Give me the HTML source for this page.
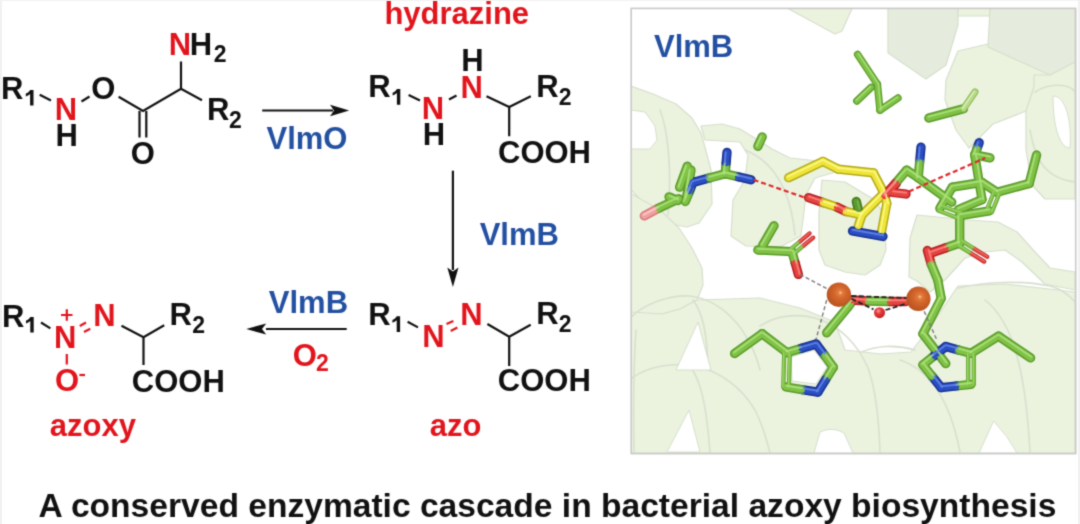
<!DOCTYPE html>
<html><head><meta charset="utf-8">
<style>
html,body{margin:0;padding:0;background:#fff;width:1080px;height:524px;overflow:hidden}
svg{display:block}
text{font-family:"Liberation Sans",sans-serif;font-weight:bold}
.k{fill:#111}
.r{fill:#e2141c}
.b{fill:#2350a2}
.s{font-size:23px}
</style></head><body>
<svg width="1080" height="524" viewBox="0 0 1080 524">
<defs><filter id="bl" x="0" y="0" width="100%" height="100%" filterUnits="userSpaceOnUse" color-interpolation-filters="sRGB"><feConvolveMatrix order="3" kernelMatrix="0.0276 0.111 0.0276 0.111 0.446 0.111 0.0276 0.111 0.0276" edgeMode="duplicate"/></filter></defs>
<g filter="url(#bl)">
<rect x="0" y="0" width="1080" height="524" fill="#fff"/>
<rect x="0" y="0" width="2" height="524" fill="#f1f1f1"/><rect x="0" y="0" width="1080" height="1.2" fill="#f3f3f3"/><rect x="1078" y="0" width="2" height="524" fill="#f1f1f1"/>
<g font-size="31">
<!-- Molecule 1 -->
<text class="k" x="1" y="99">R</text><path d="M30.1 89.9H33.5V105.6H30.1V94.0C28.9 95.2 27.2 96.0 25.8 96.4V93.6C28.0 92.7 29.5 91.4 30.1 89.9Z" fill="#111"/>
<text class="r" x="54.7" y="120">N</text>
<text class="k" x="55.4" y="146.4">H</text>
<text class="k" x="91.3" y="98.7">O</text>
<text class="k" x="130.8" y="164.3">O</text>
<text class="r" x="168.8" y="55.2">N</text><text class="k" x="189.8" y="55.2">H</text><text class="k s" x="213.8" y="62.2">2</text>
<text class="k" x="207" y="120.3">R</text><text class="k s" x="228.9" y="128">2</text>
<!-- arrow 1 label -->
<text class="b" x="266.5" y="149">VlmO</text>
<!-- Molecule 2 hydrazine -->
<text class="r" x="384.4" y="24">hydrazine</text>
<text class="k" x="368.3" y="97.2">R</text><path d="M396.9 89.0H400.3V104.7H396.9V93.1C395.7 94.3 394.0 95.1 392.6 95.5V92.7C394.8 91.8 396.3 90.5 396.9 89.0Z" fill="#111"/>
<text class="r" x="421.8" y="119.2">N</text>
<text class="k" x="422.8" y="144.6">H</text>
<text class="r" x="460.5" y="97.5">N</text>
<text class="k" x="461.3" y="71">H</text>
<text class="k" x="536.2" y="97.2">R</text><text class="k s" x="558.8" y="104.6">2</text>
<text class="k" x="498" y="163.3">COOH</text>
<text class="b" x="479.7" y="245">VlmB</text>
<!-- Molecule 3 azo -->
<text class="k" x="368.3" y="324.8">R</text><path d="M396.7 316.2H400.1V331.9H396.7V320.3C395.5 321.5 393.8 322.3 392.4 322.7V319.9C394.6 319.0 396.1 317.7 396.7 316.2Z" fill="#111"/>
<text class="r" x="422.2" y="347">N</text>
<text class="r" x="460.3" y="325.4">N</text>
<text class="k" x="536.2" y="324.4">R</text><text class="k s" x="558.8" y="332">2</text>
<text class="k" x="497.8" y="390.8">COOH</text>
<text class="r" x="429.8" y="436">azo</text>
<text class="b" x="268.8" y="312.8">VlmB</text>
<text class="r" x="292.7" y="365.5">O</text><text class="r s" x="316.1" y="371.2">2</text>
<!-- Molecule 4 azoxy -->
<text class="k" x="2" y="326.7">R</text><path d="M30.3 316.9H33.7V332.6H30.3V321.0C29.1 322.2 27.4 323.0 26.0 323.4V320.6C28.2 319.7 29.7 318.4 30.3 316.9Z" fill="#111"/>
<text class="r" x="54.1" y="347.7">N</text>
<text class="r" x="93.3" y="326">N</text>
<text class="k" x="169.6" y="325.4">R</text><text class="k s" x="192.2" y="333">2</text>
<text class="k" x="131.8" y="391.6">COOH</text>
<text class="r" x="55.1" y="390.5">O</text>
<text class="r" x="49.8" y="436">azoxy</text>
</g>
<g stroke="#e2141c" stroke-width="2.2" fill="none">
<path d="M61 315h11.5M66.8 309.2v11.5"/>
<path d="M79.4 375h5.6"/>
<path d="M66.8 354v10.5"/>
<path d="M79.8 326L86 322.5M84 332L90.3 328.8"/>
<path d="M446.5 324L453.4 321.1M450.7 331L457.4 327.6"/>
</g>
<g stroke="#111" stroke-width="2.2" fill="none" stroke-linecap="butt">
<!-- mol1 -->
<path d="M39.7 94.8L51 100.6"/>
<path d="M81.5 101.5L89.5 96.5"/>
<path d="M118.6 96.7L143 111L181 88.7L202 100.3M181 88.7V61.5"/>
<path d="M139.5 111V137.4M146.3 111V137.4"/>
<!-- mol2 -->
<path d="M408.6 95L420 100.5M449 99.5L456.5 95.5M486.5 96.3L509.2 107L530.8 96.2M509.2 107V136.2"/>
<!-- mol3 -->
<path d="M407.6 321.8L418 327.4M487.4 324L509.2 336.8L530.7 324.8M509.2 336.8V366"/>
<!-- mol4 -->
<path d="M41 322.5L50.4 328.4M121.5 325.8L143.5 337.2L164.2 325.3M143.5 337.2V365"/>
<!-- arrows -->
<path d="M262.2 110.5H333"/>
<path d="M452.9 170.7V270"/>
<path d="M266 329H346.7"/>
</g>
<g fill="#111">
<path d="M349.2 110.5L330 104.8L334 110.5L330 116.2Z"/>
<path d="M452.9 286.9L447.3 267.5L452.9 271.5L458.5 267.5Z"/>
<path d="M246.2 329L266.2 323.4L262 329L266.2 334.6Z"/>
</g>
<text x="38.6" y="517.2" font-size="33.6" fill="#111">A conserved enzymatic cascade in bacterial azoxy biosynthesis</text>
<!-- panel -->
<!--PANEL--><defs>
<radialGradient id="fe" cx="0.56" cy="0.42" r="0.62"><stop offset="0" stop-color="#fbd3a6"/><stop offset="0.13" stop-color="#e27d40"/><stop offset="0.4" stop-color="#d4662b"/><stop offset="1" stop-color="#b4501f"/></radialGradient>
<radialGradient id="wa" cx="0.4" cy="0.35" r="0.65"><stop offset="0" stop-color="#ff9a9a"/><stop offset="0.4" stop-color="#e83a3a"/><stop offset="1" stop-color="#c02020"/></radialGradient>
<clipPath id="pc"><rect x="631.5" y="9" width="444" height="444"/></clipPath>
</defs><g clip-path="url(#pc)"><g fill="#ebf3df" stroke="#d6dfcc" stroke-width="1.2" stroke-linejoin="round">
<!-- top wedge -->
<path d="M788 8.5H852L842 31L835 34Z"/>
<!-- top right block -->
<path d="M958 51L988 44L1050 73L1034 87L1026 111L993 124L969 148L956 130L945 100L946 80Z"/>
<path d="M888 8.5H958V25L946 65L926 79L888 53Z" fill="#e6ecdd"/>
<path d="M958 8.5H990V16H958Z"/>
<path d="M990 8.5H1075V62L1070 65L1050 75L988 47Z" fill="#e6ecdd"/>
<path d="M1034 75L1050 75L1075 62V199L1045 199L1032 185L1026 150L1026 111L1034 87Z"/>
<!-- L1 band -->
<path d="M631 86L653 94L676 104L692 118L701 133L706 151L711 170L712 204L699 223L687 227L670 224L650 210L636 195L631 190Z"/>
<!-- L2 band + cylinder A -->
<path d="M701 126L722 124L740 129L758 140L772 149L790 158L809 160L830 163L836 172L815 178L806 195L803 220L800.8 236L780 247L746 246L731 236L733 200L745 180L748 155L740 142L705 140Z"/>
<!-- cylinder B -->
<path d="M822 180L845 182L858 190L875 200L884 215L886 250L880 265L865 275L845 272L825 265L819 250L819 213Z"/>
<!-- end cap C -->
<path d="M630 193L660 210L679 228L692 248L702 268L703 285L697 300L680 309L662 314L645 317L631 313Z"/>
<!-- center-right ribbon -->
<path d="M917 215L969 220L998 222L1017 232L1035 252L1050 268L1075 272L1075 290L1045 284L1022 262L1005 250L985 252L965 258L945 280L930 292L917 281L909 277L910 238Z"/>
<!-- bottom band -->
<path d="M631 312L662 314L680 309L697 300L760 298L800 308L835 322L845 350L881 354L911 352L935 320L958 286L1005 284L1075 292V453H631Z"/>
</g>
<g fill="none" stroke="#d7dfce" stroke-width="1.6" stroke-linecap="round">
<path d="M1035 92C1050 82 1070 84 1075 92M1030 130C1035 160 1045 178 1075 182"/>
<path d="M636 330C634 360 633 400 634 452"/>
<path d="M630 318C645 303 670 295 690 296C712 298 735 315 748 340C755 352 758 362 760 370"/>
<path d="M632 378C648 366 675 362 695 366C720 371 742 388 755 410C764 428 768 445 770 453"/>
<path d="M690 366C700 380 706 400 710 453"/>
<path d="M760 326C775 316 795 313 815 318C840 325 858 345 868 368C876 390 879 420 880 453"/>
<path d="M862 352C875 346 895 344 915 350"/>
<path d="M958 288C985 282 1020 280 1050 286C1062 289 1070 296 1075 302"/>
<path d="M693 300C702 312 707 330 708 368"/>

<path d="M985 300C1010 320 1025 360 1030 452"/>
<path d="M900 360C930 370 950 400 960 452"/>
<path d="M660 110C668 130 672 170 668 215"/>
<path d="M745 150C770 160 790 185 795 235"/>
</g>
<g fill="#fff" stroke="#d6dfcc" stroke-width="1">
<path d="M1053 96C1066 96 1072 122 1070 148C1060 148 1053 128 1053 96Z"/>
<path d="M631 110L645 112L655 126L657 140L650 149L631 149Z"/>
<path d="M698 322L711 370L676 370Z"/>
<path d="M689 410L700 452H667Z"/>
<path d="M814 453L820 432Q832 426 844 433L853 453Z"/>
<path d="M993.6 421Q1008 436 1017 453H979Z"/>
<path d="M791 357L814 350L827 367L816 384L792 381Z"/>
</g>
<g stroke-linecap="round" fill="none">
<line x1="857.6" y1="54.5" x2="877.4" y2="84.3" stroke="#5a9a2c" stroke-width="7.4"/>
<line x1="877.4" y1="84.3" x2="880.0" y2="110.2" stroke="#5a9a2c" stroke-width="7.4"/>
<line x1="880.0" y1="110.2" x2="898.0" y2="98.0" stroke="#5a9a2c" stroke-width="7.4"/>
<line x1="871.3" y1="87.3" x2="856.8" y2="101.0" stroke="#5a9a2c" stroke-width="7.4"/>
<line x1="928.8" y1="118.0" x2="963.5" y2="108.8" stroke="#5a9a2c" stroke-width="9.3"/>
<line x1="963.5" y1="108.8" x2="975.0" y2="92.0" stroke="#8fbf55" stroke-width="7.0"/>
<line x1="644.3" y1="215.8" x2="658.6" y2="208.2" stroke="#d87a7a" stroke-width="9.3"/>
<line x1="658.6" y1="208.2" x2="678.7" y2="198.7" stroke="#5a9a2c" stroke-width="9.3"/>
<line x1="669.0" y1="196.8" x2="677.7" y2="200.6" stroke="#5a9a2c" stroke-width="9.3"/>
<line x1="679.6" y1="187.2" x2="687.3" y2="166.2" stroke="#5a9a2c" stroke-width="9.3"/>
<line x1="686.5" y1="197.7" x2="691.0" y2="170.0" stroke="#5a9a2c" stroke-width="9.3"/>
<line x1="685.3" y1="201.5" x2="691.0" y2="188.0" stroke="#5a9a2c" stroke-width="9.3"/>
<line x1="689.2" y1="191.0" x2="693.0" y2="182.4" stroke="#17308f" stroke-width="9.3"/>
<line x1="693.0" y1="182.4" x2="709.1" y2="178.1" stroke="#17308f" stroke-width="9.3"/>
<line x1="709.1" y1="178.1" x2="725.2" y2="173.8" stroke="#5a9a2c" stroke-width="9.3"/>
<line x1="725.2" y1="173.8" x2="726.1" y2="163.1" stroke="#5a9a2c" stroke-width="9.3"/>
<line x1="726.1" y1="163.1" x2="727.0" y2="152.3" stroke="#17308f" stroke-width="9.3"/>
<line x1="725.2" y1="173.8" x2="738.1" y2="176.8" stroke="#5a9a2c" stroke-width="9.3"/>
<line x1="738.1" y1="176.8" x2="751.0" y2="179.8" stroke="#17308f" stroke-width="9.3"/>
<line x1="762.2" y1="136.9" x2="757.9" y2="146.3" stroke="#5a9a2c" stroke-width="9.3"/>
<line x1="788.6" y1="177.7" x2="822.9" y2="161.4" stroke="#b3a91a" stroke-width="9.3"/>
<line x1="822.9" y1="161.4" x2="838.2" y2="169.1" stroke="#b3a91a" stroke-width="9.3"/>
<line x1="838.2" y1="169.1" x2="873.5" y2="172.9" stroke="#b3a91a" stroke-width="9.3"/>
<line x1="873.5" y1="172.9" x2="884.0" y2="193.0" stroke="#b3a91a" stroke-width="9.3"/>
<line x1="884.0" y1="193.0" x2="862.0" y2="214.9" stroke="#b3a91a" stroke-width="9.3"/>
<line x1="862.0" y1="214.9" x2="858.2" y2="226.3" stroke="#b3a91a" stroke-width="9.3"/>
<line x1="884.0" y1="193.0" x2="886.8" y2="203.4" stroke="#b3a91a" stroke-width="9.3"/>
<line x1="886.8" y1="203.4" x2="881.5" y2="232.0" stroke="#b3a91a" stroke-width="9.3"/>
<line x1="852.5" y1="231.0" x2="883.0" y2="236.5" stroke="#17308f" stroke-width="9.3"/>
<line x1="808.6" y1="197.7" x2="822.9" y2="202.5" stroke="#b51e22" stroke-width="9.3"/>
<line x1="822.9" y1="202.5" x2="837.2" y2="207.2" stroke="#b3a91a" stroke-width="9.3"/>
<line x1="837.2" y1="207.2" x2="846.0" y2="211.5" stroke="#b51e22" stroke-width="9.3"/>
<line x1="846.0" y1="211.5" x2="862.0" y2="214.9" stroke="#b3a91a" stroke-width="9.3"/>
<line x1="856.3" y1="201.5" x2="858.2" y2="209.1" stroke="#3e7a18" stroke-width="9.3"/>
<line x1="885.0" y1="194.8" x2="896.4" y2="183.4" stroke="#b51e22" stroke-width="9.3"/>
<line x1="921.0" y1="147.2" x2="919.6" y2="162.4" stroke="#17308f" stroke-width="9.3"/>
<line x1="919.6" y1="162.4" x2="918.2" y2="177.7" stroke="#5a9a2c" stroke-width="9.3"/>
<line x1="918.2" y1="177.7" x2="951.8" y2="202.2" stroke="#5a9a2c" stroke-width="9.3"/>
<line x1="918.2" y1="177.7" x2="906.7" y2="170.1" stroke="#5a9a2c" stroke-width="9.3"/>
<line x1="906.7" y1="170.1" x2="895.7" y2="183.1" stroke="#5a9a2c" stroke-width="9.3"/>
<line x1="895.7" y1="183.1" x2="884.6" y2="196.0" stroke="#b51e22" stroke-width="9.3"/>
<line x1="893.0" y1="192.5" x2="906.0" y2="194.0" stroke="#b51e22" stroke-width="9.3"/>
<line x1="979.2" y1="142.6" x2="977.0" y2="148.7" stroke="#17308f" stroke-width="9.3"/>
<line x1="977.0" y1="148.7" x2="974.7" y2="154.8" stroke="#5a9a2c" stroke-width="9.3"/>
<line x1="974.7" y1="154.8" x2="982.0" y2="199.6" stroke="#5a9a2c" stroke-width="9.3"/>
<line x1="982.0" y1="199.6" x2="958.5" y2="209.5" stroke="#5a9a2c" stroke-width="9.3"/>
<line x1="974.7" y1="154.8" x2="990.0" y2="157.9" stroke="#5a9a2c" stroke-width="9.3"/>
<line x1="939.8" y1="208.3" x2="952.3" y2="187.2" stroke="#5a9a2c" stroke-width="9.3"/>
<line x1="952.3" y1="187.2" x2="982.0" y2="182.3" stroke="#5a9a2c" stroke-width="9.3"/>
<line x1="982.0" y1="182.3" x2="996.9" y2="192.2" stroke="#5a9a2c" stroke-width="9.3"/>
<line x1="989.5" y1="210.8" x2="959.7" y2="215.7" stroke="#5a9a2c" stroke-width="9.3"/>
<line x1="994.3" y1="191.2" x2="986.9" y2="209.8" stroke="#5a9a2c" stroke-width="4.2"/>
<line x1="999.5" y1="193.2" x2="992.1" y2="211.8" stroke="#5a9a2c" stroke-width="4.2"/>
<line x1="960.7" y1="213.1" x2="940.8" y2="205.7" stroke="#5a9a2c" stroke-width="4.2"/>
<line x1="958.7" y1="218.3" x2="938.8" y2="210.9" stroke="#5a9a2c" stroke-width="4.2"/>
<line x1="996.9" y1="192.2" x2="1029.2" y2="183.5" stroke="#5a9a2c" stroke-width="9.3"/>
<line x1="1029.2" y1="183.5" x2="1036.6" y2="155.0" stroke="#5a9a2c" stroke-width="9.3"/>
<line x1="959.7" y1="215.7" x2="959.7" y2="243.0" stroke="#5a9a2c" stroke-width="9.3"/>
<line x1="959.7" y1="243.0" x2="945.4" y2="248.0" stroke="#5a9a2c" stroke-width="9.3"/>
<line x1="945.4" y1="248.0" x2="931.0" y2="253.0" stroke="#b51e22" stroke-width="9.3"/>
<line x1="958.2" y1="245.4" x2="971.2" y2="253.5" stroke="#5a9a2c" stroke-width="4.2"/>
<line x1="971.2" y1="253.5" x2="984.2" y2="261.6" stroke="#b51e22" stroke-width="4.2"/>
<line x1="961.2" y1="240.6" x2="974.2" y2="248.7" stroke="#5a9a2c" stroke-width="4.2"/>
<line x1="974.2" y1="248.7" x2="987.2" y2="256.8" stroke="#b51e22" stroke-width="4.2"/>
<line x1="927.4" y1="250.5" x2="931.2" y2="264.1" stroke="#b51e22" stroke-width="9.3"/>
<line x1="931.2" y1="264.1" x2="937.8" y2="280.0" stroke="#5a9a2c" stroke-width="9.3"/>
<line x1="937.8" y1="280.0" x2="941.2" y2="298.3" stroke="#5a9a2c" stroke-width="9.3"/>
<line x1="774.0" y1="225.7" x2="762.7" y2="245.2" stroke="#5a9a2c" stroke-width="9.3"/>
<line x1="757.8" y1="250.0" x2="792.0" y2="251.7" stroke="#5a9a2c" stroke-width="9.3"/>
<line x1="793.8" y1="253.8" x2="803.5" y2="245.7" stroke="#5a9a2c" stroke-width="4.2"/>
<line x1="803.5" y1="245.7" x2="813.2" y2="237.6" stroke="#b51e22" stroke-width="4.2"/>
<line x1="790.2" y1="249.6" x2="799.9" y2="241.5" stroke="#5a9a2c" stroke-width="4.2"/>
<line x1="799.9" y1="241.5" x2="809.6" y2="233.4" stroke="#b51e22" stroke-width="4.2"/>
<line x1="792.0" y1="251.7" x2="795.2" y2="263.0" stroke="#5a9a2c" stroke-width="9.3"/>
<line x1="795.2" y1="263.0" x2="798.4" y2="274.4" stroke="#b51e22" stroke-width="9.3"/>
<line x1="826.7" y1="332.8" x2="848.0" y2="307.0" stroke="#5a9a2c" stroke-width="9.3"/>
<line x1="848.0" y1="307.0" x2="853.0" y2="300.5" stroke="#5a9a2c" stroke-width="9.3"/>
<line x1="852.0" y1="300.0" x2="868.0" y2="301.0" stroke="#b51e22" stroke-width="9.3"/>
<line x1="868.0" y1="301.0" x2="890.0" y2="301.5" stroke="#5a9a2c" stroke-width="9.3"/>
<line x1="890.0" y1="301.5" x2="906.0" y2="301.5" stroke="#b51e22" stroke-width="9.3"/>
<line x1="941.2" y1="298.3" x2="922.9" y2="333.9" stroke="#5a9a2c" stroke-width="9.3"/>
<line x1="922.9" y1="333.9" x2="945.8" y2="363.6" stroke="#5a9a2c" stroke-width="9.3"/>
<line x1="734.6" y1="353.5" x2="762.1" y2="333.7" stroke="#5a9a2c" stroke-width="9.3"/>
<line x1="762.1" y1="333.7" x2="787.0" y2="352.6" stroke="#5a9a2c" stroke-width="9.3"/>
<line x1="787.0" y1="352.6" x2="801.6" y2="348.3" stroke="#5a9a2c" stroke-width="9.3"/>
<line x1="801.6" y1="348.3" x2="816.2" y2="344.0" stroke="#17308f" stroke-width="9.3"/>
<line x1="816.2" y1="344.0" x2="824.8" y2="355.6" stroke="#17308f" stroke-width="9.3"/>
<line x1="824.8" y1="355.6" x2="833.3" y2="367.2" stroke="#5a9a2c" stroke-width="9.3"/>
<line x1="833.3" y1="367.2" x2="825.6" y2="379.6" stroke="#5a9a2c" stroke-width="9.3"/>
<line x1="825.6" y1="379.6" x2="817.9" y2="392.1" stroke="#17308f" stroke-width="9.3"/>
<line x1="817.9" y1="392.1" x2="802.0" y2="389.6" stroke="#17308f" stroke-width="9.3"/>
<line x1="802.0" y1="389.6" x2="786.1" y2="387.0" stroke="#5a9a2c" stroke-width="9.3"/>
<line x1="788.9" y1="387.1" x2="789.8" y2="352.7" stroke="#5a9a2c" stroke-width="4.2"/>
<line x1="783.3" y1="386.9" x2="784.2" y2="352.5" stroke="#5a9a2c" stroke-width="4.2"/>
<line x1="945.8" y1="346.5" x2="958.4" y2="349.9" stroke="#17308f" stroke-width="9.3"/>
<line x1="958.4" y1="349.9" x2="971.0" y2="353.3" stroke="#5a9a2c" stroke-width="9.3"/>
<line x1="968.2" y1="353.3" x2="968.2" y2="384.3" stroke="#5a9a2c" stroke-width="4.2"/>
<line x1="973.8" y1="353.3" x2="973.8" y2="384.3" stroke="#5a9a2c" stroke-width="4.2"/>
<line x1="971.0" y1="384.3" x2="956.1" y2="386.0" stroke="#5a9a2c" stroke-width="9.3"/>
<line x1="956.1" y1="386.0" x2="941.2" y2="387.7" stroke="#17308f" stroke-width="9.3"/>
<line x1="941.2" y1="387.7" x2="932.0" y2="376.2" stroke="#17308f" stroke-width="9.3"/>
<line x1="932.0" y1="376.2" x2="922.9" y2="364.8" stroke="#5a9a2c" stroke-width="9.3"/>
<line x1="922.9" y1="364.8" x2="934.3" y2="355.6" stroke="#5a9a2c" stroke-width="9.3"/>
<line x1="934.3" y1="355.6" x2="945.8" y2="346.5" stroke="#17308f" stroke-width="9.3"/>
<line x1="971.0" y1="353.3" x2="998.5" y2="336.1" stroke="#5a9a2c" stroke-width="9.3"/>
<line x1="998.5" y1="336.1" x2="1030.6" y2="357.9" stroke="#5a9a2c" stroke-width="9.3"/>
<line x1="857.6" y1="54.5" x2="877.4" y2="84.3" stroke="#7fc244" stroke-width="5.0"/>
<line x1="877.4" y1="84.3" x2="880.0" y2="110.2" stroke="#7fc244" stroke-width="5.0"/>
<line x1="880.0" y1="110.2" x2="898.0" y2="98.0" stroke="#7fc244" stroke-width="5.0"/>
<line x1="871.3" y1="87.3" x2="856.8" y2="101.0" stroke="#7fc244" stroke-width="5.0"/>
<line x1="928.8" y1="118.0" x2="963.5" y2="108.8" stroke="#7fc244" stroke-width="6.3"/>
<line x1="963.5" y1="108.8" x2="975.0" y2="92.0" stroke="#b8d88a" stroke-width="4.8"/>
<line x1="644.3" y1="215.8" x2="658.6" y2="208.2" stroke="#f0a0a0" stroke-width="6.3"/>
<line x1="658.6" y1="208.2" x2="678.7" y2="198.7" stroke="#7fc244" stroke-width="6.3"/>
<line x1="669.0" y1="196.8" x2="677.7" y2="200.6" stroke="#7fc244" stroke-width="6.3"/>
<line x1="679.6" y1="187.2" x2="687.3" y2="166.2" stroke="#7fc244" stroke-width="6.3"/>
<line x1="686.5" y1="197.7" x2="691.0" y2="170.0" stroke="#7fc244" stroke-width="6.3"/>
<line x1="685.3" y1="201.5" x2="691.0" y2="188.0" stroke="#7fc244" stroke-width="6.3"/>
<line x1="689.2" y1="191.0" x2="693.0" y2="182.4" stroke="#2a4fc4" stroke-width="6.3"/>
<line x1="693.0" y1="182.4" x2="709.1" y2="178.1" stroke="#2a4fc4" stroke-width="6.3"/>
<line x1="709.1" y1="178.1" x2="725.2" y2="173.8" stroke="#7fc244" stroke-width="6.3"/>
<line x1="725.2" y1="173.8" x2="726.1" y2="163.1" stroke="#7fc244" stroke-width="6.3"/>
<line x1="726.1" y1="163.1" x2="727.0" y2="152.3" stroke="#2a4fc4" stroke-width="6.3"/>
<line x1="725.2" y1="173.8" x2="738.1" y2="176.8" stroke="#7fc244" stroke-width="6.3"/>
<line x1="738.1" y1="176.8" x2="751.0" y2="179.8" stroke="#2a4fc4" stroke-width="6.3"/>
<line x1="762.2" y1="136.9" x2="757.9" y2="146.3" stroke="#7fc244" stroke-width="6.3"/>
<line x1="788.6" y1="177.7" x2="822.9" y2="161.4" stroke="#eee535" stroke-width="6.3"/>
<line x1="822.9" y1="161.4" x2="838.2" y2="169.1" stroke="#eee535" stroke-width="6.3"/>
<line x1="838.2" y1="169.1" x2="873.5" y2="172.9" stroke="#eee535" stroke-width="6.3"/>
<line x1="873.5" y1="172.9" x2="884.0" y2="193.0" stroke="#eee535" stroke-width="6.3"/>
<line x1="884.0" y1="193.0" x2="862.0" y2="214.9" stroke="#eee535" stroke-width="6.3"/>
<line x1="862.0" y1="214.9" x2="858.2" y2="226.3" stroke="#eee535" stroke-width="6.3"/>
<line x1="884.0" y1="193.0" x2="886.8" y2="203.4" stroke="#eee535" stroke-width="6.3"/>
<line x1="886.8" y1="203.4" x2="881.5" y2="232.0" stroke="#eee535" stroke-width="6.3"/>
<line x1="852.5" y1="231.0" x2="883.0" y2="236.5" stroke="#2a4fc4" stroke-width="6.3"/>
<line x1="808.6" y1="197.7" x2="822.9" y2="202.5" stroke="#e5443f" stroke-width="6.3"/>
<line x1="822.9" y1="202.5" x2="837.2" y2="207.2" stroke="#eee535" stroke-width="6.3"/>
<line x1="837.2" y1="207.2" x2="846.0" y2="211.5" stroke="#e5443f" stroke-width="6.3"/>
<line x1="846.0" y1="211.5" x2="862.0" y2="214.9" stroke="#eee535" stroke-width="6.3"/>
<line x1="856.3" y1="201.5" x2="858.2" y2="209.1" stroke="#5d9a30" stroke-width="6.3"/>
<line x1="885.0" y1="194.8" x2="896.4" y2="183.4" stroke="#e5443f" stroke-width="6.3"/>
<line x1="921.0" y1="147.2" x2="919.6" y2="162.4" stroke="#2a4fc4" stroke-width="6.3"/>
<line x1="919.6" y1="162.4" x2="918.2" y2="177.7" stroke="#7fc244" stroke-width="6.3"/>
<line x1="918.2" y1="177.7" x2="951.8" y2="202.2" stroke="#7fc244" stroke-width="6.3"/>
<line x1="918.2" y1="177.7" x2="906.7" y2="170.1" stroke="#7fc244" stroke-width="6.3"/>
<line x1="906.7" y1="170.1" x2="895.7" y2="183.1" stroke="#7fc244" stroke-width="6.3"/>
<line x1="895.7" y1="183.1" x2="884.6" y2="196.0" stroke="#e5443f" stroke-width="6.3"/>
<line x1="893.0" y1="192.5" x2="906.0" y2="194.0" stroke="#e5443f" stroke-width="6.3"/>
<line x1="979.2" y1="142.6" x2="977.0" y2="148.7" stroke="#2a4fc4" stroke-width="6.3"/>
<line x1="977.0" y1="148.7" x2="974.7" y2="154.8" stroke="#7fc244" stroke-width="6.3"/>
<line x1="974.7" y1="154.8" x2="982.0" y2="199.6" stroke="#7fc244" stroke-width="6.3"/>
<line x1="982.0" y1="199.6" x2="958.5" y2="209.5" stroke="#7fc244" stroke-width="6.3"/>
<line x1="974.7" y1="154.8" x2="990.0" y2="157.9" stroke="#7fc244" stroke-width="6.3"/>
<line x1="939.8" y1="208.3" x2="952.3" y2="187.2" stroke="#7fc244" stroke-width="6.3"/>
<line x1="952.3" y1="187.2" x2="982.0" y2="182.3" stroke="#7fc244" stroke-width="6.3"/>
<line x1="982.0" y1="182.3" x2="996.9" y2="192.2" stroke="#7fc244" stroke-width="6.3"/>
<line x1="989.5" y1="210.8" x2="959.7" y2="215.7" stroke="#7fc244" stroke-width="6.3"/>
<line x1="994.3" y1="191.2" x2="986.9" y2="209.8" stroke="#7fc244" stroke-width="2.9"/>
<line x1="999.5" y1="193.2" x2="992.1" y2="211.8" stroke="#7fc244" stroke-width="2.9"/>
<line x1="960.7" y1="213.1" x2="940.8" y2="205.7" stroke="#7fc244" stroke-width="2.9"/>
<line x1="958.7" y1="218.3" x2="938.8" y2="210.9" stroke="#7fc244" stroke-width="2.9"/>
<line x1="996.9" y1="192.2" x2="1029.2" y2="183.5" stroke="#7fc244" stroke-width="6.3"/>
<line x1="1029.2" y1="183.5" x2="1036.6" y2="155.0" stroke="#7fc244" stroke-width="6.3"/>
<line x1="959.7" y1="215.7" x2="959.7" y2="243.0" stroke="#7fc244" stroke-width="6.3"/>
<line x1="959.7" y1="243.0" x2="945.4" y2="248.0" stroke="#7fc244" stroke-width="6.3"/>
<line x1="945.4" y1="248.0" x2="931.0" y2="253.0" stroke="#e5443f" stroke-width="6.3"/>
<line x1="958.2" y1="245.4" x2="971.2" y2="253.5" stroke="#7fc244" stroke-width="2.9"/>
<line x1="971.2" y1="253.5" x2="984.2" y2="261.6" stroke="#e5443f" stroke-width="2.9"/>
<line x1="961.2" y1="240.6" x2="974.2" y2="248.7" stroke="#7fc244" stroke-width="2.9"/>
<line x1="974.2" y1="248.7" x2="987.2" y2="256.8" stroke="#e5443f" stroke-width="2.9"/>
<line x1="927.4" y1="250.5" x2="931.2" y2="264.1" stroke="#e5443f" stroke-width="6.3"/>
<line x1="931.2" y1="264.1" x2="937.8" y2="280.0" stroke="#7fc244" stroke-width="6.3"/>
<line x1="937.8" y1="280.0" x2="941.2" y2="298.3" stroke="#7fc244" stroke-width="6.3"/>
<line x1="774.0" y1="225.7" x2="762.7" y2="245.2" stroke="#7fc244" stroke-width="6.3"/>
<line x1="757.8" y1="250.0" x2="792.0" y2="251.7" stroke="#7fc244" stroke-width="6.3"/>
<line x1="793.8" y1="253.8" x2="803.5" y2="245.7" stroke="#7fc244" stroke-width="2.9"/>
<line x1="803.5" y1="245.7" x2="813.2" y2="237.6" stroke="#e5443f" stroke-width="2.9"/>
<line x1="790.2" y1="249.6" x2="799.9" y2="241.5" stroke="#7fc244" stroke-width="2.9"/>
<line x1="799.9" y1="241.5" x2="809.6" y2="233.4" stroke="#e5443f" stroke-width="2.9"/>
<line x1="792.0" y1="251.7" x2="795.2" y2="263.0" stroke="#7fc244" stroke-width="6.3"/>
<line x1="795.2" y1="263.0" x2="798.4" y2="274.4" stroke="#e5443f" stroke-width="6.3"/>
<line x1="826.7" y1="332.8" x2="848.0" y2="307.0" stroke="#7fc244" stroke-width="6.3"/>
<line x1="848.0" y1="307.0" x2="853.0" y2="300.5" stroke="#7fc244" stroke-width="6.3"/>
<line x1="852.0" y1="300.0" x2="868.0" y2="301.0" stroke="#e5443f" stroke-width="6.3"/>
<line x1="868.0" y1="301.0" x2="890.0" y2="301.5" stroke="#7fc244" stroke-width="6.3"/>
<line x1="890.0" y1="301.5" x2="906.0" y2="301.5" stroke="#e5443f" stroke-width="6.3"/>
<line x1="941.2" y1="298.3" x2="922.9" y2="333.9" stroke="#7fc244" stroke-width="6.3"/>
<line x1="922.9" y1="333.9" x2="945.8" y2="363.6" stroke="#7fc244" stroke-width="6.3"/>
<line x1="734.6" y1="353.5" x2="762.1" y2="333.7" stroke="#7fc244" stroke-width="6.3"/>
<line x1="762.1" y1="333.7" x2="787.0" y2="352.6" stroke="#7fc244" stroke-width="6.3"/>
<line x1="787.0" y1="352.6" x2="801.6" y2="348.3" stroke="#7fc244" stroke-width="6.3"/>
<line x1="801.6" y1="348.3" x2="816.2" y2="344.0" stroke="#2a4fc4" stroke-width="6.3"/>
<line x1="816.2" y1="344.0" x2="824.8" y2="355.6" stroke="#2a4fc4" stroke-width="6.3"/>
<line x1="824.8" y1="355.6" x2="833.3" y2="367.2" stroke="#7fc244" stroke-width="6.3"/>
<line x1="833.3" y1="367.2" x2="825.6" y2="379.6" stroke="#7fc244" stroke-width="6.3"/>
<line x1="825.6" y1="379.6" x2="817.9" y2="392.1" stroke="#2a4fc4" stroke-width="6.3"/>
<line x1="817.9" y1="392.1" x2="802.0" y2="389.6" stroke="#2a4fc4" stroke-width="6.3"/>
<line x1="802.0" y1="389.6" x2="786.1" y2="387.0" stroke="#7fc244" stroke-width="6.3"/>
<line x1="788.9" y1="387.1" x2="789.8" y2="352.7" stroke="#7fc244" stroke-width="2.9"/>
<line x1="783.3" y1="386.9" x2="784.2" y2="352.5" stroke="#7fc244" stroke-width="2.9"/>
<line x1="945.8" y1="346.5" x2="958.4" y2="349.9" stroke="#2a4fc4" stroke-width="6.3"/>
<line x1="958.4" y1="349.9" x2="971.0" y2="353.3" stroke="#7fc244" stroke-width="6.3"/>
<line x1="968.2" y1="353.3" x2="968.2" y2="384.3" stroke="#7fc244" stroke-width="2.9"/>
<line x1="973.8" y1="353.3" x2="973.8" y2="384.3" stroke="#7fc244" stroke-width="2.9"/>
<line x1="971.0" y1="384.3" x2="956.1" y2="386.0" stroke="#7fc244" stroke-width="6.3"/>
<line x1="956.1" y1="386.0" x2="941.2" y2="387.7" stroke="#2a4fc4" stroke-width="6.3"/>
<line x1="941.2" y1="387.7" x2="932.0" y2="376.2" stroke="#2a4fc4" stroke-width="6.3"/>
<line x1="932.0" y1="376.2" x2="922.9" y2="364.8" stroke="#7fc244" stroke-width="6.3"/>
<line x1="922.9" y1="364.8" x2="934.3" y2="355.6" stroke="#7fc244" stroke-width="6.3"/>
<line x1="934.3" y1="355.6" x2="945.8" y2="346.5" stroke="#2a4fc4" stroke-width="6.3"/>
<line x1="971.0" y1="353.3" x2="998.5" y2="336.1" stroke="#7fc244" stroke-width="6.3"/>
<line x1="998.5" y1="336.1" x2="1030.6" y2="357.9" stroke="#7fc244" stroke-width="6.3"/>
<line x1="858.5" y1="53.9" x2="878.3" y2="83.7" stroke="#b2e383" stroke-width="1.5" opacity="0.8"/>
<line x1="878.4" y1="84.2" x2="881.0" y2="110.1" stroke="#b2e383" stroke-width="1.5" opacity="0.8"/>
<line x1="879.4" y1="109.3" x2="897.4" y2="97.1" stroke="#b2e383" stroke-width="1.5" opacity="0.8"/>
<line x1="870.6" y1="86.5" x2="856.1" y2="100.2" stroke="#b2e383" stroke-width="1.5" opacity="0.8"/>
<line x1="928.5" y1="116.7" x2="963.2" y2="107.5" stroke="#b2e383" stroke-width="1.9" opacity="0.8"/>
<line x1="962.7" y1="108.2" x2="974.2" y2="91.4" stroke="#e8f4c8" stroke-width="1.4" opacity="0.8"/>
<line x1="643.7" y1="214.7" x2="658.0" y2="207.1" stroke="#ffd0d0" stroke-width="1.9" opacity="0.8"/>
<line x1="658.0" y1="207.0" x2="678.1" y2="197.5" stroke="#b2e383" stroke-width="1.9" opacity="0.8"/>
<line x1="669.5" y1="195.6" x2="678.2" y2="199.4" stroke="#b2e383" stroke-width="1.9" opacity="0.8"/>
<line x1="678.4" y1="186.8" x2="686.1" y2="165.8" stroke="#b2e383" stroke-width="1.9" opacity="0.8"/>
<line x1="685.2" y1="197.5" x2="689.7" y2="169.8" stroke="#b2e383" stroke-width="1.9" opacity="0.8"/>
<line x1="684.1" y1="201.0" x2="689.8" y2="187.5" stroke="#b2e383" stroke-width="1.9" opacity="0.8"/>
<line x1="688.0" y1="190.5" x2="691.8" y2="181.9" stroke="#6a88e8" stroke-width="1.9" opacity="0.8"/>
<line x1="692.7" y1="181.1" x2="708.8" y2="176.8" stroke="#6a88e8" stroke-width="1.9" opacity="0.8"/>
<line x1="708.8" y1="176.8" x2="724.9" y2="172.5" stroke="#b2e383" stroke-width="1.9" opacity="0.8"/>
<line x1="723.9" y1="173.7" x2="724.8" y2="162.9" stroke="#b2e383" stroke-width="1.9" opacity="0.8"/>
<line x1="724.8" y1="162.9" x2="725.7" y2="152.2" stroke="#6a88e8" stroke-width="1.9" opacity="0.8"/>
<line x1="725.5" y1="172.5" x2="738.4" y2="175.5" stroke="#b2e383" stroke-width="1.9" opacity="0.8"/>
<line x1="738.4" y1="175.5" x2="751.3" y2="178.5" stroke="#6a88e8" stroke-width="1.9" opacity="0.8"/>
<line x1="761.0" y1="136.4" x2="756.7" y2="145.8" stroke="#b2e383" stroke-width="1.9" opacity="0.8"/>
<line x1="788.0" y1="176.5" x2="822.3" y2="160.2" stroke="#fdfa9a" stroke-width="1.9" opacity="0.8"/>
<line x1="823.5" y1="160.2" x2="838.8" y2="167.9" stroke="#fdfa9a" stroke-width="1.9" opacity="0.8"/>
<line x1="838.3" y1="167.8" x2="873.6" y2="171.6" stroke="#fdfa9a" stroke-width="1.9" opacity="0.8"/>
<line x1="874.7" y1="172.3" x2="885.2" y2="192.4" stroke="#fdfa9a" stroke-width="1.9" opacity="0.8"/>
<line x1="883.1" y1="192.1" x2="861.1" y2="214.0" stroke="#fdfa9a" stroke-width="1.9" opacity="0.8"/>
<line x1="860.8" y1="214.5" x2="857.0" y2="225.9" stroke="#fdfa9a" stroke-width="1.9" opacity="0.8"/>
<line x1="885.3" y1="192.7" x2="888.1" y2="203.1" stroke="#fdfa9a" stroke-width="1.9" opacity="0.8"/>
<line x1="885.5" y1="203.2" x2="880.2" y2="231.8" stroke="#fdfa9a" stroke-width="1.9" opacity="0.8"/>
<line x1="852.7" y1="229.7" x2="883.2" y2="235.2" stroke="#6a88e8" stroke-width="1.9" opacity="0.8"/>
<line x1="809.0" y1="196.5" x2="823.3" y2="201.3" stroke="#ff8a85" stroke-width="1.9" opacity="0.8"/>
<line x1="823.3" y1="201.3" x2="837.6" y2="206.0" stroke="#fdfa9a" stroke-width="1.9" opacity="0.8"/>
<line x1="837.8" y1="206.0" x2="846.6" y2="210.3" stroke="#ff8a85" stroke-width="1.9" opacity="0.8"/>
<line x1="846.3" y1="210.2" x2="862.3" y2="213.6" stroke="#fdfa9a" stroke-width="1.9" opacity="0.8"/>
<line x1="857.6" y1="201.2" x2="859.5" y2="208.8" stroke="#80b850" stroke-width="1.9" opacity="0.8"/>
<line x1="884.1" y1="193.9" x2="895.5" y2="182.5" stroke="#ff8a85" stroke-width="1.9" opacity="0.8"/>
<line x1="919.7" y1="147.1" x2="918.3" y2="162.3" stroke="#6a88e8" stroke-width="1.9" opacity="0.8"/>
<line x1="918.3" y1="162.3" x2="916.9" y2="177.6" stroke="#b2e383" stroke-width="1.9" opacity="0.8"/>
<line x1="919.0" y1="176.6" x2="952.6" y2="201.1" stroke="#b2e383" stroke-width="1.9" opacity="0.8"/>
<line x1="918.9" y1="176.6" x2="907.4" y2="169.0" stroke="#b2e383" stroke-width="1.9" opacity="0.8"/>
<line x1="905.7" y1="169.3" x2="894.7" y2="182.2" stroke="#b2e383" stroke-width="1.9" opacity="0.8"/>
<line x1="894.7" y1="182.2" x2="883.6" y2="195.2" stroke="#ff8a85" stroke-width="1.9" opacity="0.8"/>
<line x1="893.1" y1="191.2" x2="906.1" y2="192.7" stroke="#ff8a85" stroke-width="1.9" opacity="0.8"/>
<line x1="978.0" y1="142.1" x2="975.7" y2="148.2" stroke="#6a88e8" stroke-width="1.9" opacity="0.8"/>
<line x1="975.7" y1="148.2" x2="973.5" y2="154.3" stroke="#b2e383" stroke-width="1.9" opacity="0.8"/>
<line x1="976.0" y1="154.6" x2="983.3" y2="199.4" stroke="#b2e383" stroke-width="1.9" opacity="0.8"/>
<line x1="981.5" y1="198.4" x2="958.0" y2="208.3" stroke="#b2e383" stroke-width="1.9" opacity="0.8"/>
<line x1="975.0" y1="153.5" x2="990.3" y2="156.6" stroke="#b2e383" stroke-width="1.9" opacity="0.8"/>
<line x1="938.7" y1="207.6" x2="951.2" y2="186.5" stroke="#b2e383" stroke-width="1.9" opacity="0.8"/>
<line x1="952.1" y1="185.9" x2="981.8" y2="181.0" stroke="#b2e383" stroke-width="1.9" opacity="0.8"/>
<line x1="982.7" y1="181.2" x2="997.6" y2="191.1" stroke="#b2e383" stroke-width="1.9" opacity="0.8"/>
<line x1="989.3" y1="209.5" x2="959.5" y2="214.4" stroke="#b2e383" stroke-width="1.9" opacity="0.8"/>
<line x1="993.8" y1="190.9" x2="986.4" y2="209.5" stroke="#b2e383" stroke-width="0.8" opacity="0.8"/>
<line x1="999.0" y1="193.0" x2="991.6" y2="211.6" stroke="#b2e383" stroke-width="0.8" opacity="0.8"/>
<line x1="960.9" y1="212.5" x2="941.0" y2="205.1" stroke="#b2e383" stroke-width="0.8" opacity="0.8"/>
<line x1="958.9" y1="217.8" x2="939.0" y2="210.4" stroke="#b2e383" stroke-width="0.8" opacity="0.8"/>
<line x1="996.6" y1="190.9" x2="1028.9" y2="182.2" stroke="#b2e383" stroke-width="1.9" opacity="0.8"/>
<line x1="1027.9" y1="183.2" x2="1035.3" y2="154.7" stroke="#b2e383" stroke-width="1.9" opacity="0.8"/>
<line x1="958.4" y1="215.7" x2="958.4" y2="243.0" stroke="#b2e383" stroke-width="1.9" opacity="0.8"/>
<line x1="959.3" y1="241.8" x2="944.9" y2="246.8" stroke="#b2e383" stroke-width="1.9" opacity="0.8"/>
<line x1="944.9" y1="246.8" x2="930.6" y2="251.8" stroke="#ff8a85" stroke-width="1.9" opacity="0.8"/>
<line x1="958.5" y1="244.9" x2="971.5" y2="253.0" stroke="#b2e383" stroke-width="0.8" opacity="0.8"/>
<line x1="971.5" y1="253.0" x2="984.5" y2="261.1" stroke="#ff8a85" stroke-width="0.8" opacity="0.8"/>
<line x1="961.5" y1="240.1" x2="974.5" y2="248.2" stroke="#b2e383" stroke-width="0.8" opacity="0.8"/>
<line x1="974.5" y1="248.2" x2="987.5" y2="256.3" stroke="#ff8a85" stroke-width="0.8" opacity="0.8"/>
<line x1="928.7" y1="250.1" x2="932.5" y2="263.7" stroke="#ff8a85" stroke-width="1.9" opacity="0.8"/>
<line x1="932.4" y1="263.6" x2="939.0" y2="279.5" stroke="#b2e383" stroke-width="1.9" opacity="0.8"/>
<line x1="939.1" y1="279.8" x2="942.5" y2="298.1" stroke="#b2e383" stroke-width="1.9" opacity="0.8"/>
<line x1="772.9" y1="225.0" x2="761.6" y2="244.5" stroke="#b2e383" stroke-width="1.9" opacity="0.8"/>
<line x1="757.9" y1="248.7" x2="792.1" y2="250.4" stroke="#b2e383" stroke-width="1.9" opacity="0.8"/>
<line x1="793.4" y1="253.4" x2="803.1" y2="245.3" stroke="#b2e383" stroke-width="0.8" opacity="0.8"/>
<line x1="803.1" y1="245.3" x2="812.8" y2="237.2" stroke="#ff8a85" stroke-width="0.8" opacity="0.8"/>
<line x1="789.8" y1="249.1" x2="799.5" y2="241.0" stroke="#b2e383" stroke-width="0.8" opacity="0.8"/>
<line x1="799.5" y1="241.0" x2="809.2" y2="232.9" stroke="#ff8a85" stroke-width="0.8" opacity="0.8"/>
<line x1="793.3" y1="251.3" x2="796.5" y2="262.7" stroke="#b2e383" stroke-width="1.9" opacity="0.8"/>
<line x1="796.5" y1="262.7" x2="799.7" y2="274.0" stroke="#ff8a85" stroke-width="1.9" opacity="0.8"/>
<line x1="825.7" y1="332.0" x2="847.0" y2="306.2" stroke="#b2e383" stroke-width="1.9" opacity="0.8"/>
<line x1="847.0" y1="306.2" x2="852.0" y2="299.7" stroke="#b2e383" stroke-width="1.9" opacity="0.8"/>
<line x1="852.1" y1="298.7" x2="868.1" y2="299.7" stroke="#ff8a85" stroke-width="1.9" opacity="0.8"/>
<line x1="868.0" y1="299.7" x2="890.0" y2="300.2" stroke="#b2e383" stroke-width="1.9" opacity="0.8"/>
<line x1="890.0" y1="300.2" x2="906.0" y2="300.2" stroke="#ff8a85" stroke-width="1.9" opacity="0.8"/>
<line x1="940.0" y1="297.7" x2="921.7" y2="333.3" stroke="#b2e383" stroke-width="1.9" opacity="0.8"/>
<line x1="923.9" y1="333.1" x2="946.8" y2="362.8" stroke="#b2e383" stroke-width="1.9" opacity="0.8"/>
<line x1="733.8" y1="352.4" x2="761.3" y2="332.6" stroke="#b2e383" stroke-width="1.9" opacity="0.8"/>
<line x1="762.9" y1="332.7" x2="787.8" y2="351.6" stroke="#b2e383" stroke-width="1.9" opacity="0.8"/>
<line x1="786.6" y1="351.4" x2="801.2" y2="347.1" stroke="#b2e383" stroke-width="1.9" opacity="0.8"/>
<line x1="801.2" y1="347.1" x2="815.8" y2="342.8" stroke="#6a88e8" stroke-width="1.9" opacity="0.8"/>
<line x1="817.2" y1="343.2" x2="825.8" y2="354.8" stroke="#6a88e8" stroke-width="1.9" opacity="0.8"/>
<line x1="825.8" y1="354.8" x2="834.3" y2="366.4" stroke="#b2e383" stroke-width="1.9" opacity="0.8"/>
<line x1="832.2" y1="366.5" x2="824.5" y2="379.0" stroke="#b2e383" stroke-width="1.9" opacity="0.8"/>
<line x1="824.5" y1="379.0" x2="816.8" y2="391.4" stroke="#6a88e8" stroke-width="1.9" opacity="0.8"/>
<line x1="818.1" y1="390.8" x2="802.2" y2="388.3" stroke="#6a88e8" stroke-width="1.9" opacity="0.8"/>
<line x1="802.2" y1="388.3" x2="786.3" y2="385.7" stroke="#b2e383" stroke-width="1.9" opacity="0.8"/>
<line x1="788.3" y1="387.1" x2="789.2" y2="352.7" stroke="#b2e383" stroke-width="0.8" opacity="0.8"/>
<line x1="782.7" y1="386.9" x2="783.6" y2="352.5" stroke="#b2e383" stroke-width="0.8" opacity="0.8"/>
<line x1="946.1" y1="345.2" x2="958.7" y2="348.6" stroke="#6a88e8" stroke-width="1.9" opacity="0.8"/>
<line x1="958.7" y1="348.6" x2="971.3" y2="352.0" stroke="#b2e383" stroke-width="1.9" opacity="0.8"/>
<line x1="967.6" y1="353.3" x2="967.6" y2="384.3" stroke="#b2e383" stroke-width="0.8" opacity="0.8"/>
<line x1="973.2" y1="353.3" x2="973.2" y2="384.3" stroke="#b2e383" stroke-width="0.8" opacity="0.8"/>
<line x1="970.9" y1="383.0" x2="956.0" y2="384.7" stroke="#b2e383" stroke-width="1.9" opacity="0.8"/>
<line x1="956.0" y1="384.7" x2="941.1" y2="386.4" stroke="#6a88e8" stroke-width="1.9" opacity="0.8"/>
<line x1="942.2" y1="386.9" x2="933.1" y2="375.4" stroke="#6a88e8" stroke-width="1.9" opacity="0.8"/>
<line x1="933.1" y1="375.4" x2="923.9" y2="364.0" stroke="#b2e383" stroke-width="1.9" opacity="0.8"/>
<line x1="922.1" y1="363.8" x2="933.5" y2="354.6" stroke="#b2e383" stroke-width="1.9" opacity="0.8"/>
<line x1="933.5" y1="354.6" x2="945.0" y2="345.5" stroke="#6a88e8" stroke-width="1.9" opacity="0.8"/>
<line x1="970.3" y1="352.2" x2="997.8" y2="335.0" stroke="#b2e383" stroke-width="1.9" opacity="0.8"/>
<line x1="999.2" y1="335.0" x2="1031.3" y2="356.8" stroke="#b2e383" stroke-width="1.9" opacity="0.8"/>
</g>
<g fill="none" stroke-width="2.2">
<path d="M753.6 179.8L805 197.7M909 191.5L985.3 157.9" stroke="#e0262a" stroke-dasharray="5 3"/>
<path d="M800 274.4L827.6 289M826.7 300L816 339.5M924.2 311.4L936.7 339.6" stroke="#7a7a7a" stroke-width="1.4" stroke-dasharray="4 2.5"/>
<path d="M851.4 296L906.9 298M851.4 298.7L873.5 309.4M885.5 310L906.9 303.4" stroke="#222" stroke-width="1.8" stroke-dasharray="5 2.5"/>
</g>
<circle cx="838.9" cy="294.7" r="12.2" fill="url(#fe)"/>
<circle cx="918.4" cy="298.8" r="12.2" fill="url(#fe)"/>
<circle cx="879.5" cy="312.7" r="5.5" fill="url(#wa)"/></g><!--/PANEL-->
<rect x="631.2" y="8.4" width="444.5" height="445.2" fill="none" stroke="#c9c9c9" stroke-width="1.6"/>
<text class="b" x="654" y="57.3" font-size="31">VlmB</text>
</g>
</svg>
</body></html>
